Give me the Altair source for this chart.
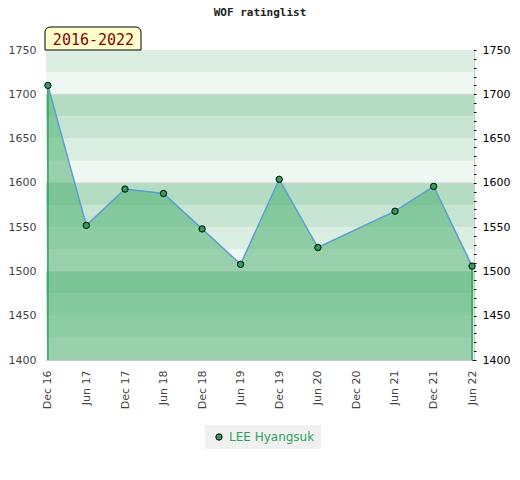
import altair as alt
import pandas as pd

# ---- data ----
dates = ["2016-12-01", "2017-06-01", "2017-12-01", "2018-06-01", "2018-12-01",
         "2019-06-01", "2019-12-01", "2020-06-01", "2021-06-01", "2021-12-01",
         "2022-06-01"]
ratings = [1710, 1552, 1593, 1588, 1548, 1508, 1604, 1527, 1568, 1596, 1506]
player = "LEE Hyangsuk"
period_label = "2016-2022"
title_text = "WOF ratinglist"

band_lo = [1400, 1425, 1450, 1475, 1500, 1525, 1550, 1575, 1600, 1625, 1650,
           1675, 1700, 1725]
band_hi = [1425, 1450, 1475, 1500, 1525, 1550, 1575, 1600, 1625, 1650, 1675,
           1700, 1725, 1750]
band_shade = ["s0", "s1", "s2", "s3", "s0", "s1", "s2", "s3", "s0", "s1", "s2",
              "s3", "s0", "s1"]
grid_values = [1500, 1600, 1700]

tick_dates = [(2016, 12), (2017, 6), (2017, 12), (2018, 6), (2018, 12), (2019, 6),
              (2019, 12), (2020, 6), (2020, 12), (2021, 6), (2021, 12), (2022, 6)]
left_ticks = [1400, 1450, 1500, 1550, 1600, 1650, 1700, 1750]
right_ticks = list(range(1400, 1751, 10))

# ---- frames ----
df = pd.DataFrame({"date": dates, "rating": ratings, "player": [player] * len(dates)})
edges = df.iloc[[0, len(df) - 1]]
bands = pd.DataFrame({"lo": band_lo, "hi": band_hi, "shade": band_shade})
grid = pd.DataFrame({"v": grid_values})
deco = pd.DataFrame({"t": [period_label], "h": [title_text]})

FONT = "DejaVu Sans"
MONO = "DejaVu Sans Mono"

yscale = alt.Scale(domain=[1400, 1750], nice=False, zero=False)
xscale = alt.Scale(type="utc",
                   domain=[alt.DateTime(year=2016, month=11, date=22, utc=True),
                           alt.DateTime(year=2022, month=6, date=10, utc=True)])
xaxis = alt.Axis(values=[alt.DateTime(year=y, month=m, date=1, utc=True) for y, m in tick_dates],
                 format="%b %y", labelAngle=270, ticks=False, domain=False, grid=False,
                 labelPadding=10, labelFont=FONT, labelFontSize=11, labelColor="#444444",
                 title=None)
X = alt.X("date:T", scale=xscale, axis=xaxis)

band_layer = alt.Chart(bands).mark_rect().encode(
    y=alt.Y("lo:Q", scale=yscale,
            axis=alt.Axis(orient="left", values=left_ticks, format="d", ticks=False,
                          domain=False, grid=False, labelPadding=10, labelFont=FONT,
                          labelFontSize=11, labelColor="#444444", title=None)),
    y2="hi:Q",
    fill=alt.Fill("shade:N", legend=None,
                  scale=alt.Scale(domain=["s0", "s1", "s2", "s3"],
                                  range=["#eef7f1", "#daeee1", "#c7e5d2", "#b3dcc3"])),
)

grid_layer = alt.Chart(grid).mark_rule(color="#d6d6d6", strokeWidth=1).encode(
    y=alt.Y("v:Q", scale=yscale, axis=None)
)

area_layer = alt.Chart(df).mark_area(color="#41ab67", opacity=0.5).encode(
    x=X,
    y=alt.Y("rating:Q", scale=yscale, axis=None),
    y2=alt.datum(1400),
)

edge_layer = alt.Chart(edges).mark_rule(color="#2ca25f", strokeWidth=1.5).encode(
    x=X,
    y=alt.Y("rating:Q", scale=yscale, axis=None),
    y2=alt.datum(1400),
)

line_layer = alt.Chart(df).mark_line(color="#5b9fd6", strokeWidth=1.5).encode(
    x=X,
    y=alt.Y("rating:Q", scale=yscale, axis=None),
)

point_layer = alt.Chart(df).mark_point(filled=True, shape="circle", size=40,
                                       stroke="black", strokeWidth=1, opacity=1).encode(
    x=X,
    y=alt.Y("rating:Q", scale=yscale,
            axis=alt.Axis(orient="right", values=right_ticks, format="d",
                          labelExpr="datum.value % 50 == 0 ? datum.label : ''",
                          ticks=True, tickSize=4, tickColor="black", domain=False,
                          grid=False, offset=-2, labelPadding=6, labelFont=FONT,
                          labelFontSize=11, labelColor="black", title=None)),
    color=alt.Color("player:N", scale=alt.Scale(range=["#2e9e5b"]),
                    legend=alt.Legend(title=None, orient="none", legendX=159, legendY=375,
                                      fillColor="#f0f0f0", padding=6,
                                      labelColor="#2ca25f", labelFont=FONT,
                                      labelFontSize=12, symbolType="circle",
                                      symbolSize=40, symbolStrokeColor="black",
                                      symbolStrokeWidth=1, symbolOffset=2)),
)

badge_rect = alt.Chart(deco).mark_rect(fill="#ffffcc", stroke="black", strokeWidth=1,
                                       cornerRadiusTopLeft=5, cornerRadiusTopRight=5).encode(
    x=alt.value(-1), x2=alt.value(95), y=alt.value(-23), y2=alt.value(0)
)
badge_text = alt.Chart(deco).mark_text(font=MONO, fontSize=15, color="#8b0000",
                                       align="center", baseline="middle").encode(
    x=alt.value(47.5), y=alt.value(-10), text="t:N"
)
title_mark = alt.Chart(deco).mark_text(font=MONO, fontSize=11, fontWeight="bold",
                                       color="#222222", align="center",
                                       baseline="middle").encode(
    x=alt.value(214), y=alt.value(-37), text="h:N"
)

chart = alt.layer(
    band_layer, grid_layer, area_layer, edge_layer, line_layer, point_layer,
    badge_rect, badge_text, title_mark
).resolve_axis(y="independent").resolve_scale(color="independent", fill="independent").properties(
    width=428, height=310,
    padding={"left": 38, "top": 42, "right": 38, "bottom": 112},
    autosize=alt.AutoSizeParams(type="none"),
).configure_view(stroke="#cccccc", strokeWidth=1)

chart.save("out.html", embed_options={"renderer": "svg", "actions": False})
